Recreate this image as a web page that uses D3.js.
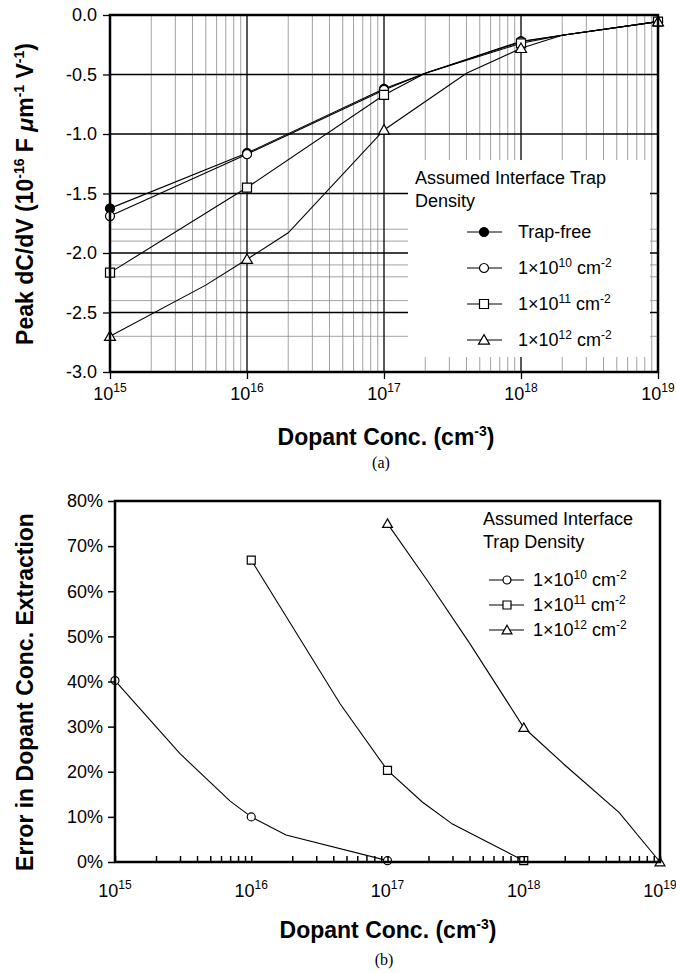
<!DOCTYPE html>
<html>
<head>
<meta charset="utf-8">
<script src="https://cdn.jsdelivr.net/npm/d3@7"></script>
<style>
body { margin: 0; background: #fff; }
svg text { font-family: "Liberation Sans", Arial, sans-serif; fill: #000; }
</style>
</head>
<body>
<div id="canvas"></div>
<script>
"use strict"

let drawingWidth = 676;
let drawingHeight = 973;

/* concentration axis (shared by both panels) */
let decadeValues = [1e15, 1e16, 1e17, 1e18, 1e19];
let decadeExponents = ["15", "16", "17", "18", "19"];

/* panel (a): peak dC/dV */
let aYTicks = [0, -0.5, -1, -1.5, -2, -2.5, -3];
let aMinorGrid = [-1.8, -1.9, -2.1, -2.2, -2.4, -2.7];

let trapFreeConc = [1e15, 1e16, 1e17, 2e17, 1e18, 2e18, 1e19];
let trapFreePeak = [-1.625, -1.16, -0.62, -0.49, -0.22, -0.17, -0.056];
let trap10Conc = [1e15, 1e16, 1e17, 2e17, 1e18, 2e18, 1e19];
let trap10Peak = [-1.69, -1.17, -0.63, -0.49, -0.225, -0.17, -0.056];
let trap11Conc = [1e15, 1e16, 1e17, 2e17, 1e18, 2e18, 1e19];
let trap11Peak = [-2.165, -1.45, -0.672, -0.49, -0.238, -0.17, -0.056];
let trap12Conc = [1e15, 5e15, 1e16, 2e16, 1e17, 4e17, 1e18, 2e18, 1e19];
let trap12Peak = [-2.70, -2.27, -2.053, -1.83, -0.966, -0.49, -0.28, -0.17, -0.056];

/* panel (b): error in extracted dopant conc. (%) */
let bYTicks = [0, 10, 20, 30, 40, 50, 60, 70, 80];

let err10Conc = [1e15, 3e15, 7e15, 1e16, 1.8e16, 1e17];
let err10 = [40.2, 24, 13.5, 10, 6, 0.3];
let err11Conc = [1e16, 4.5e16, 1e17, 1.8e17, 3e17, 1e18];
let err11 = [66.9, 35, 20.3, 13.3, 8.4, 0.3];
let err12Conc = [1e17, 2e17, 4e17, 1e18, 2e18, 5e18, 1e19];
let err12 = [75, 62, 48.5, 29.8, 21.5, 11, 0];

let legendTitleA = ["Assumed Interface Trap", "Density"];
let legendTitleB = ["Assumed Interface", "Trap Density"];
let trapLabels = [
    [{t: "Trap-free"}],
    [{t: "1\u00d710"}, {t: "10", sup: true}, {t: " cm"}, {t: "-2", sup: true}],
    [{t: "1\u00d710"}, {t: "11", sup: true}, {t: " cm"}, {t: "-2", sup: true}],
    [{t: "1\u00d710"}, {t: "12", sup: true}, {t: " cm"}, {t: "-2", sup: true}]
];

let drawing = d3.select("#canvas")
    .append("svg")
    .attr("width", drawingWidth)
    .attr("height", drawingHeight);

drawing.append("rect")
    .attr("width", drawingWidth)
    .attr("height", drawingHeight)
    .attr("fill", "white");

/* text with superscripts */
function richText(sel, parts, supSize, rise) {
    let raised = false;
    parts.forEach(p => {
        let ts = sel.append("tspan").text(p.t);
        if (p.sup && !raised) { ts.attr("dy", -rise); raised = true; }
        else if (!p.sup && raised) { ts.attr("dy", rise); raised = false; }
        if (p.sup) ts.attr("font-size", supSize);
        if (p.italic) ts.attr("font-style", "italic");
    });
}

function isDecade(c) {
    let e = Math.log10(c);
    return Math.abs(e - Math.round(e)) < 1e-9;
}

let symbolTypes = {
    dot: d3.symbolCircle,
    circle: d3.symbolCircle,
    square: d3.symbolSquare,
    triangle: d3.symbolTriangle
};

function drawMarker(g, shape, x, y, size) {
    g.append("path")
        .attr("d", d3.symbol().type(symbolTypes[shape]).size(size[shape])())
        .attr("transform", "translate(" + x + "," + (shape == "triangle" ? y + 1 : y) + ")")
        .attr("fill", shape == "dot" ? "black" : "white")
        .attr("stroke", "black")
        .attr("stroke-width", 1.2);
}

function drawSeries(g, xs, ys, conc, vals, shape, size) {
    let pts = conc.map((c, i) => [xs(c), ys(vals[i])]);
    g.append("path")
        .attr("d", d3.line()(pts))
        .attr("fill", "none")
        .attr("stroke", "black")
        .attr("stroke-width", 1.1);
    conc.forEach((c, i) => {
        if (isDecade(c)) drawMarker(g, shape, xs(c), ys(vals[i]), size);
    });
}

function minorValues() {
    let out = [];
    for (let e = 15; e < 19; e++)
        for (let k = 2; k <= 9; k++) out.push(k * Math.pow(10, e));
    return out;
}

function decadeLabels(g, xs, y) {
    decadeValues.forEach((d, i) => {
        let t = g.append("text")
            .attr("x", xs(d))
            .attr("y", y)
            .attr("text-anchor", "middle")
            .attr("font-size", 18);
        richText(t, [{t: "10"}, {t: decadeExponents[i], sup: true}], 12, 8);
    });
}

/* ---------- panel (a) ---------- */
let xA = d3.scaleLog().domain([1e15, 1e19]).range([110, 658]);
let yA = d3.scaleLinear().domain([-3, 0]).range([372, 15]);
let gA = drawing.append("g");

gA.selectAll(".minorV").data(minorValues()).enter().append("line")
    .attr("x1", d => xA(d)).attr("x2", d => xA(d))
    .attr("y1", yA(0)).attr("y2", yA(-3))
    .attr("stroke", "#8a8a8a").attr("stroke-width", 0.8);

gA.selectAll(".minorH").data(aMinorGrid).enter().append("line")
    .attr("x1", xA(1e15)).attr("x2", xA(1e19))
    .attr("y1", d => yA(d)).attr("y2", d => yA(d))
    .attr("stroke", "#8a8a8a").attr("stroke-width", 0.8);

gA.selectAll(".majorV").data(decadeValues.slice(1, 4)).enter().append("line")
    .attr("x1", d => xA(d)).attr("x2", d => xA(d))
    .attr("y1", yA(0)).attr("y2", yA(-3))
    .attr("stroke", "black").attr("stroke-width", 1.3);

gA.selectAll(".majorH").data(aYTicks.slice(1, 6)).enter().append("line")
    .attr("x1", xA(1e15)).attr("x2", xA(1e19))
    .attr("y1", d => yA(d)).attr("y2", d => yA(d))
    .attr("stroke", "black").attr("stroke-width", 1.3);

/* legend background hides the grid */
gA.append("rect")
    .attr("x", 408).attr("y", 160)
    .attr("width", 242).attr("height", 197)
    .attr("fill", "white");

let sizeA = {dot: 64, circle: 64, square: 81, triangle: 52};
drawSeries(gA, xA, yA, trapFreeConc, trapFreePeak, "dot", sizeA);
drawSeries(gA, xA, yA, trap10Conc, trap10Peak, "circle", sizeA);
drawSeries(gA, xA, yA, trap11Conc, trap11Peak, "square", sizeA);
drawSeries(gA, xA, yA, trap12Conc, trap12Peak, "triangle", sizeA);

gA.append("rect")
    .attr("x", xA(1e15)).attr("y", yA(0))
    .attr("width", xA(1e19) - xA(1e15)).attr("height", yA(-3) - yA(0))
    .attr("fill", "none").attr("stroke", "black").attr("stroke-width", 2.5);

let axisA = gA.append("g")
    .attr("transform", "translate(" + xA(1e15) + ",0)")
    .call(d3.axisLeft(yA).tickValues(aYTicks).tickSize(7).tickPadding(6)
        .tickFormat(d => d.toFixed(1)));
axisA.select(".domain").remove();
axisA.selectAll("line").attr("stroke-width", 1.3);
axisA.selectAll("text").attr("font-size", 18).attr("font-family", null);

let axisAx = gA.append("g")
    .attr("transform", "translate(0," + yA(-3) + ")")
    .call(d3.axisBottom(xA).tickValues(decadeValues).tickSize(7).tickFormat(""));
axisAx.select(".domain").remove();
axisAx.selectAll("line").attr("stroke-width", 1.3);
decadeLabels(gA, xA, 400);

let titleAx = gA.append("text")
    .attr("x", 386).attr("y", 445)
    .attr("text-anchor", "middle").attr("font-size", 23).attr("font-weight", "bold");
richText(titleAx, [{t: "Dopant Conc. (cm"}, {t: "-3", sup: true}, {t: ")"}], 14, 9);

let titleAy = gA.append("text")
    .attr("transform", "translate(33,194) rotate(-90)")
    .attr("text-anchor", "middle").attr("font-size", 23).attr("font-weight", "bold");
richText(titleAy, [{t: "Peak dC/dV (10"}, {t: "-16", sup: true}, {t: " F "},
    {t: "\u03bc", italic: true}, {t: "m"}, {t: "-1", sup: true}, {t: " V"},
    {t: "-1", sup: true}, {t: ")"}], 14, 9);

gA.append("text")
    .attr("x", 381).attr("y", 468)
    .attr("text-anchor", "middle").attr("font-size", 16)
    .style("font-family", "'Liberation Serif', 'Times New Roman', serif")
    .text("(a)");

legendTitleA.forEach((s, i) => {
    gA.append("text").attr("x", 415).attr("y", 184 + i * 23)
        .attr("font-size", 18).text(s);
});
["dot", "circle", "square", "triangle"].forEach((shape, i) => {
    let ly = 232 + i * 36;
    gA.append("line").attr("x1", 467).attr("x2", 502).attr("y1", ly).attr("y2", ly)
        .attr("stroke", "black").attr("stroke-width", 1.1);
    drawMarker(gA, shape, 484, ly, sizeA);
    let t = gA.append("text").attr("x", 518).attr("y", ly + 6).attr("font-size", 18);
    richText(t, trapLabels[i], 12, 7);
});

/* ---------- panel (b) ---------- */
let xB = d3.scaleLog().domain([1e15, 1e19]).range([115, 660]);
let yB = d3.scaleLinear().domain([0, 80]).range([862, 501]);
let gB = drawing.append("g");

let sizeB = {dot: 50, circle: 50, square: 64, triangle: 42};
drawSeries(gB, xB, yB, err10Conc, err10, "circle", sizeB);
drawSeries(gB, xB, yB, err11Conc, err11, "square", sizeB);
drawSeries(gB, xB, yB, err12Conc, err12, "triangle", sizeB);

let axisBx = gB.append("g")
    .attr("transform", "translate(0," + yB(0) + ")")
    .call(d3.axisBottom(xB).tickValues(decadeValues.concat(minorValues()))
        .tickSize(-6).tickFormat(""));
axisBx.select(".domain").remove();
axisBx.selectAll("line").attr("stroke-width", 1.5);
decadeLabels(gB, xB, 897);

let axisBy = gB.append("g")
    .attr("transform", "translate(" + xB(1e15) + ",0)")
    .call(d3.axisLeft(yB).tickValues(bYTicks).tickSize(7).tickPadding(5)
        .tickFormat(d => d + "%"));
axisBy.select(".domain").remove();
axisBy.selectAll("line").attr("stroke-width", 1.5);
axisBy.selectAll("text").attr("font-size", 18).attr("font-family", null);

gB.append("rect")
    .attr("x", xB(1e15)).attr("y", yB(80))
    .attr("width", xB(1e19) - xB(1e15)).attr("height", yB(0) - yB(80))
    .attr("fill", "none").attr("stroke", "black").attr("stroke-width", 2.5);

let titleBx = gB.append("text")
    .attr("x", 388).attr("y", 938)
    .attr("text-anchor", "middle").attr("font-size", 23).attr("font-weight", "bold");
richText(titleBx, [{t: "Dopant Conc. (cm"}, {t: "-3", sup: true}, {t: ")"}], 14, 9);

gB.append("text")
    .attr("transform", "translate(33,692) rotate(-90)")
    .attr("text-anchor", "middle").attr("font-size", 23).attr("font-weight", "bold")
    .text("Error in Dopant Conc. Extraction");

gB.append("text")
    .attr("x", 384).attr("y", 965)
    .attr("text-anchor", "middle").attr("font-size", 16)
    .style("font-family", "'Liberation Serif', 'Times New Roman', serif")
    .text("(b)");

legendTitleB.forEach((s, i) => {
    gB.append("text").attr("x", 483).attr("y", 525 + i * 23)
        .attr("font-size", 18).text(s);
});
["circle", "square", "triangle"].forEach((shape, i) => {
    let ly = 580 + i * 25;
    gB.append("line").attr("x1", 489).attr("x2", 524).attr("y1", ly).attr("y2", ly)
        .attr("stroke", "black").attr("stroke-width", 1.1);
    drawMarker(gB, shape, 507, ly, sizeB);
    let t = gB.append("text").attr("x", 533).attr("y", ly + 6).attr("font-size", 18);
    richText(t, trapLabels[i + 1], 12, 7);
});
</script>
</body>
</html>
